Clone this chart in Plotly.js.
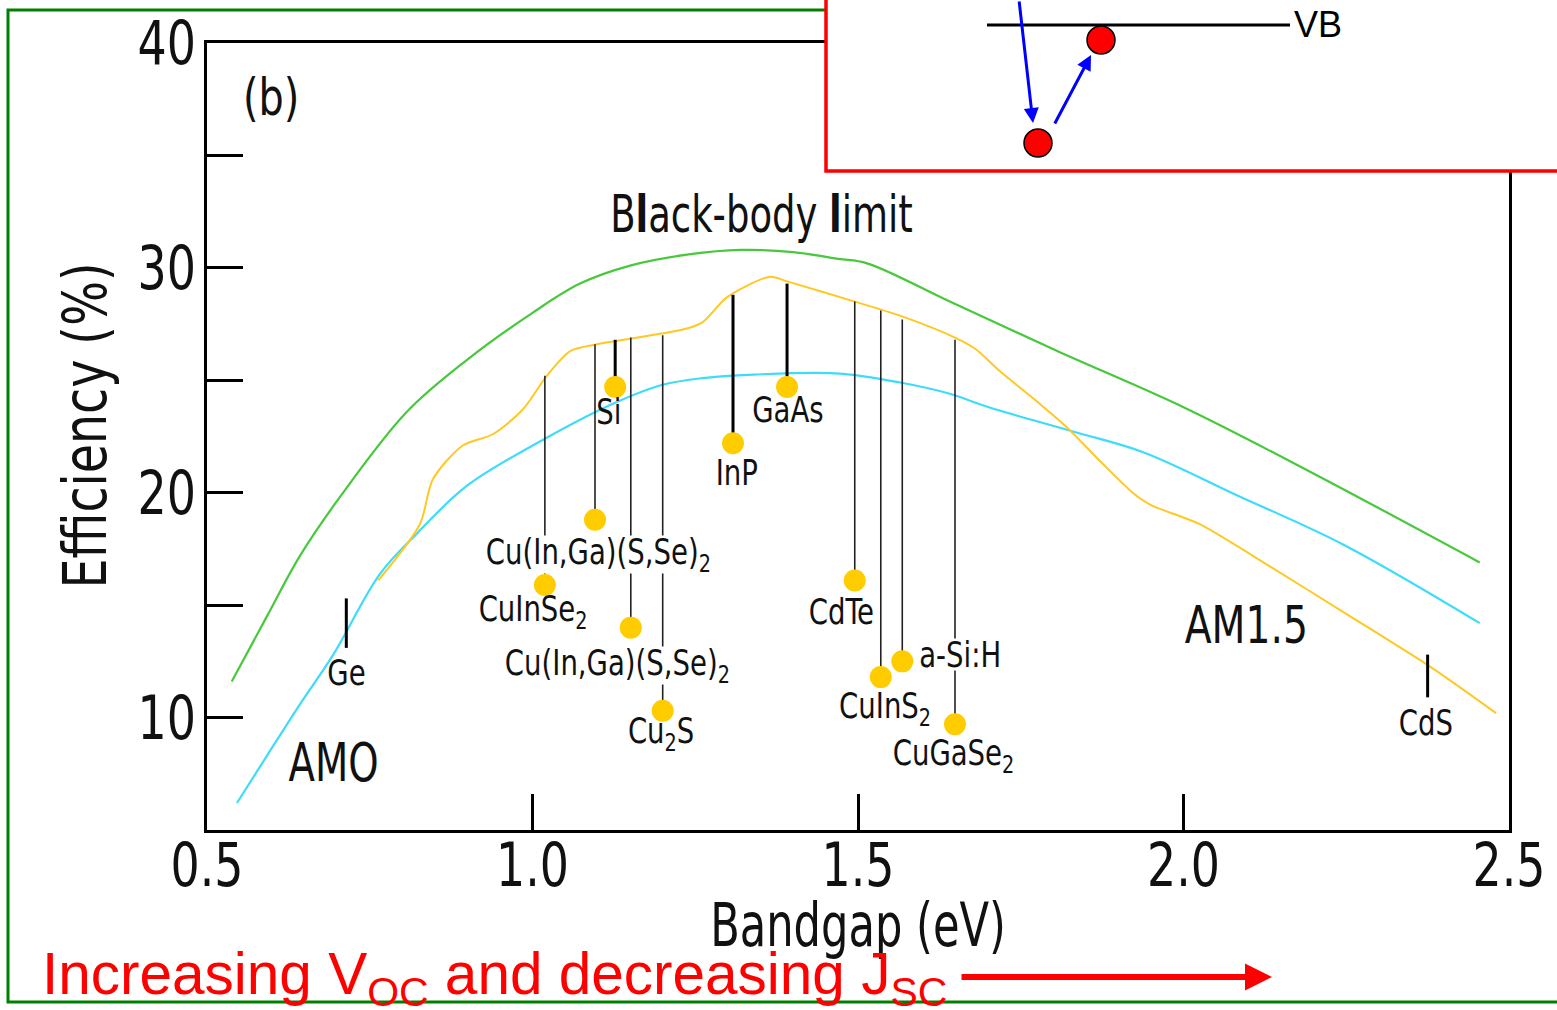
<!DOCTYPE html>
<html>
<head>
<meta charset="utf-8">
<script src="https://cdn.plot.ly/plotly-3.0.1.min.js"></script>
<style>html,body{margin:0;padding:0;background:#fff;}#chart{width:1557px;height:1010px;}</style>
</head>
<body>
<div id="chart"></div>
<script>
// ---- Data ----
const blackbodyBandgap = [0.538,0.592,0.643,0.704,0.807,0.899,1.000,1.073,1.150,1.240,1.320,1.400,1.470,1.514,1.641,1.806,2.000,2.190,2.455];
const blackbodyEff     = [11.6,14.5,17.2,19.8,23.6,25.9,28.0,29.3,30.1,30.6,30.8,30.7,30.4,30.2,28.5,26.3,23.8,21.0,16.9];

const am0Bandgap = [0.546,0.592,0.643,0.694,0.766,0.823,0.899,1.019,1.127,1.200,1.262,1.339,1.472,1.565,1.641,1.701,1.833,1.938,2.081,2.245,2.455];
const am0Eff     = [6.2,8.3,10.6,12.8,16.4,18.2,20.3,22.4,24.0,24.8,25.1,25.25,25.3,24.9,24.4,23.8,22.7,21.8,19.9,17.7,14.2];

const am15Bandgap = [0.763,0.827,0.847,0.893,0.939,0.985,1.022,1.058,1.099,1.161,1.237,1.262,1.299,1.365,1.391,1.495,1.572,1.649,1.680,1.718,1.769,1.821,1.872,1.922,1.950,1.981,2.025,2.134,2.245,2.377,2.480];
const am15Eff     = [16.1,18.6,20.6,22.1,22.6,23.7,25.2,26.3,26.6,26.9,27.3,27.6,28.7,29.6,29.4,28.5,27.8,26.9,26.4,25.4,24.2,22.9,21.4,20.0,19.45,19.1,18.6,16.7,14.7,12.3,10.2];

const materials      = ['Ge','CuInSe2','Cu(In,Ga)(S,Se)2','Si','Cu(In,Ga)(S,Se)2','Cu2S','InP','GaAs','CdTe','CuInS2','a-Si:H','CuGaSe2','CdS'];
const materialLabels = ['Ge','CuInSe<sub>2</sub>','Cu(In,Ga)(S,Se)<sub>2</sub>','Si','Cu(In,Ga)(S,Se)<sub>2</sub>','Cu<sub>2</sub>S','InP','GaAs','CdTe','CuInS<sub>2</sub>','a-Si:H','CuGaSe<sub>2</sub>','CdS'];
const materialGap    = [0.714,1.019,1.096,1.127,1.151,1.200,1.308,1.391,1.495,1.535,1.568,1.649,2.375];
const materialLimit  = [15.3,25.2,26.6,26.8,26.9,27.0,28.8,29.3,28.5,28.1,27.7,26.8,12.8];
const materialRecord = [null,15.9,18.8,24.7,14.0,10.3,22.2,24.7,16.1,11.8,12.5,9.7,null];
const materialTickEnd= [13.1,null,null,null,null,null,null,null,null,null,null,null,10.9];
const labelX         = [0.714,1.001,1.101,1.118,1.131,1.197,1.314,1.392,1.475,1.541,1.657,1.646,2.373];
const labelY         = [12.0,14.7,17.25,23.6,12.3,9.3,20.9,23.7,14.7,10.4,12.8,8.3,9.8];

const xTicks = [0.5,1.0,1.5,2.0,2.5];
const xTickText = ['0.5','1.0','1.5','2.0','2.5'];
const yTicks = [10,15,20,25,30,35,40];
const yTickText = ['10','','20','','30','','40'];

// ---- Styling ----
const NARROW = "'DejaVu Sans Condensed', 'DejaVu Sans', sans-serif";
const SANS = "'Liberation Sans', Arial, sans-serif";
const W = 1557, H = 1010, ML = 207, MR = 48, MT = 43, MB = 180;
const PW = W - ML - MR, PH = H - MT - MB;
const px = v => (v - ML) / PW;          // pixel x -> paper
const py = v => (H - MB - v) / PH;      // pixel y -> paper

const traces = [];
traces.push({x: blackbodyBandgap, y: blackbodyEff, mode: 'lines', line: {color: '#48c83c', width: 2.2, shape: 'spline', smoothing: 1.0}, hoverinfo: 'skip'});
traces.push({x: am0Bandgap, y: am0Eff, mode: 'lines', line: {color: '#3ddcfa', width: 2.2, shape: 'spline', smoothing: 1.0}, hoverinfo: 'skip'});
traces.push({x: am15Bandgap, y: am15Eff, mode: 'lines', line: {color: '#ffc825', width: 2, shape: 'spline', smoothing: 0.8}, hoverinfo: 'skip'});

const thick = ['Si','InP','GaAs','Ge','CdS'];
materials.forEach((m, i) => {
  const bottom = materialRecord[i] !== null ? materialRecord[i] : materialTickEnd[i];
  traces.push({x: [materialGap[i], materialGap[i]], y: [materialLimit[i], bottom], mode: 'lines',
    line: {color: thick.includes(m) ? '#000' : '#222', width: thick.includes(m) ? 3 : 1.6}, hoverinfo: 'skip'});
});
const dotX = [], dotY = [];
materials.forEach((m, i) => { if (materialRecord[i] !== null) { dotX.push(materialGap[i]); dotY.push(materialRecord[i]); } });
traces.push({x: dotX, y: dotY, mode: 'markers', marker: {color: '#ffcc00', size: 22, line: {width: 0}}, hoverinfo: 'skip'});

const annotations = [];
const squeeze = {};   // annotation index -> horizontal condensing factor
const gapLabels = [2, 4, 10];
materials.forEach((m, i) => {
  squeeze[annotations.length] = 0.85;
  annotations.push({x: labelX[i], y: labelY[i], xref: 'x', yref: 'y', text: materialLabels[i], showarrow: false,
    font: {family: NARROW, size: 36, color: '#111'}, bgcolor: gapLabels.includes(i) ? '#fff' : 'rgba(0,0,0,0)', borderpad: 0});
});
squeeze[annotations.length] = 0.85;
annotations.push({x: 0.598, y: 37.6, xref: 'x', yref: 'y', text: '(b)', showarrow: false, font: {family: NARROW, size: 52, color: '#111'}});
squeeze[annotations.length] = 0.79;
annotations.push({x: 1.351, y: 32.4, xref: 'x', yref: 'y', text: 'B<b>l</b>ack-body <b>l</b>imit', showarrow: false, font: {family: NARROW, size: 52, color: '#111'}});
squeeze[annotations.length] = 0.81;
annotations.push({x: 0.694, y: 8.0, xref: 'x', yref: 'y', text: 'AMO', showarrow: false, font: {family: NARROW, size: 53, color: '#111'}});
squeeze[annotations.length] = 0.84;
annotations.push({x: 2.096, y: 14.1, xref: 'x', yref: 'y', text: 'AM1.5', showarrow: false, font: {family: NARROW, size: 52, color: '#111'}});

// bottom red caption and arrow
annotations.push({x: px(40), y: py(978), xref: 'paper', yref: 'paper', xanchor: 'left', yanchor: 'middle',
  text: 'Increasing V<sub>OC</sub> and decreasing J<sub>SC</sub>', showarrow: false, font: {family: SANS, size: 58.5, color: '#ff0000'}});
annotations.push({x: px(1272), y: py(977), xref: 'paper', yref: 'paper', text: '', showarrow: true,
  ax: -312, ay: 0, arrowhead: 2, arrowsize: 0.9, arrowwidth: 6, arrowcolor: '#ff0000', standoff: 0});

// inset: blue arrows and VB label
annotations.push({x: px(1033), y: py(123), xref: 'paper', yref: 'paper', text: '', showarrow: true,
  ax: -14, ay: -130, arrowhead: 2, arrowsize: 1, arrowwidth: 3, arrowcolor: '#0000ff', standoff: 0});
annotations.push({x: px(1091), y: py(55), xref: 'paper', yref: 'paper', text: '', showarrow: true,
  ax: -37, ay: 70, arrowhead: 2, arrowsize: 1, arrowwidth: 3, arrowcolor: '#0000ff', standoff: 0});
annotations.push({x: px(1292), y: py(25), xref: 'paper', yref: 'paper', xanchor: 'left', yanchor: 'middle', text: 'VB', showarrow: false,
  font: {family: SANS, size: 36, color: '#000'}});

const shapes = [
  {type: 'rect', xref: 'paper', yref: 'paper', x0: px(8), x1: px(1570), y0: py(1002), y1: py(10), line: {color: '#008000', width: 3}, layer: 'above'},
  {type: 'rect', xref: 'paper', yref: 'paper', x0: px(826), x1: px(1575), y0: py(171), y1: py(-10), line: {color: '#ff0000', width: 3.5}, fillcolor: '#ffffff', layer: 'above'},
  {type: 'line', xref: 'paper', yref: 'paper', x0: px(987), x1: px(1290), y0: py(25), y1: py(25), line: {color: '#000', width: 3}, layer: 'above'},
  {type: 'circle', xref: 'paper', yref: 'paper', xsizemode: 'pixel', ysizemode: 'pixel', xanchor: px(1038), yanchor: py(143),
    x0: -14, x1: 14, y0: -14, y1: 14, fillcolor: '#ff0000', line: {color: '#000', width: 1.5}, layer: 'above'},
  {type: 'circle', xref: 'paper', yref: 'paper', xsizemode: 'pixel', ysizemode: 'pixel', xanchor: px(1101), yanchor: py(40),
    x0: -14, x1: 14, y0: -14, y1: 14, fillcolor: '#ff0000', line: {color: '#000', width: 1.5}, layer: 'above'}
];

const layout = {
  width: W, height: H,
  margin: {l: ML, r: MR, t: MT, b: MB, pad: 0},
  paper_bgcolor: '#fff', plot_bgcolor: '#fff',
  showlegend: false,
  xaxis: {range: [0.5, 2.5], tickvals: xTicks, ticktext: xTickText, ticks: 'inside', ticklen: 36, tickwidth: 3, tickcolor: '#000',
    showline: true, linecolor: '#000', linewidth: 3, mirror: true, showgrid: false, zeroline: false, ticklabelstandoff: -19,
    tickfont: {family: NARROW, size: 60, color: '#111'},
    title: {text: 'Bandgap (eV)', font: {family: NARROW, size: 60, color: '#111'}, standoff: 0}},
  yaxis: {range: [5, 40], tickvals: yTicks, ticktext: yTickText, ticks: 'inside', ticklen: 36, tickwidth: 3, tickcolor: '#000',
    showline: true, linecolor: '#000', linewidth: 3, mirror: true, showgrid: false, zeroline: false, ticklabelstandoff: -4,
    tickfont: {family: NARROW, size: 60, color: '#111'},
    title: {text: 'Efficiency (%)', font: {family: NARROW, size: 60, color: '#111'}, standoff: 0}},
  annotations: annotations,
  shapes: shapes
};

// Condense the chart's narrow lettering (the reference uses a condensed face)
function condense(el, f) {
  const w = el.getComputedTextLength();
  if (w > 0) { el.setAttribute('textLength', (w * f).toFixed(1)); el.setAttribute('lengthAdjust', 'spacingAndGlyphs'); }
}
function nudge(el, dx, dy) {
  el.setAttribute('transform', 'translate(' + dx + ',' + dy + ') ' + (el.getAttribute('transform') || ''));
}

Plotly.newPlot('chart', traces, layout, {staticPlot: true, displayModeBar: false}).then(gd => {
  gd.querySelectorAll('.xtick text, .ytick text').forEach(t => condense(t, 0.85));
  gd.querySelectorAll('.g-xtitle text').forEach(t => { condense(t, 0.80); nudge(t, 0, -10); });
  gd.querySelectorAll('.g-ytitle text').forEach(t => { condense(t, 0.88); nudge(t, -2, -11); });
  gd.querySelectorAll('.annotation').forEach(g => {
    const idx = +g.getAttribute('data-index');
    const f = squeeze[idx];
    if (f) g.querySelectorAll('text.annotation-text').forEach(t => condense(t, f));
    // trim the white label background to the condensed lettering so it only masks the lines behind the text
    if (gapLabels.includes(idx)) {
      const bg = g.querySelector('rect.bg');
      if (bg) {
        const w0 = +bg.getAttribute('width'), h0 = +bg.getAttribute('height');
        const x0 = +bg.getAttribute('x') || 0, y0 = +bg.getAttribute('y') || 0;
        const w1 = w0 * f + 4, h1 = h0 - 10;
        bg.setAttribute('x', x0 + (w0 - w1) / 2); bg.setAttribute('width', w1);
        bg.setAttribute('y', y0 + 5); bg.setAttribute('height', h1);
      }
    }
  });
});
</script>
</body>
</html>
